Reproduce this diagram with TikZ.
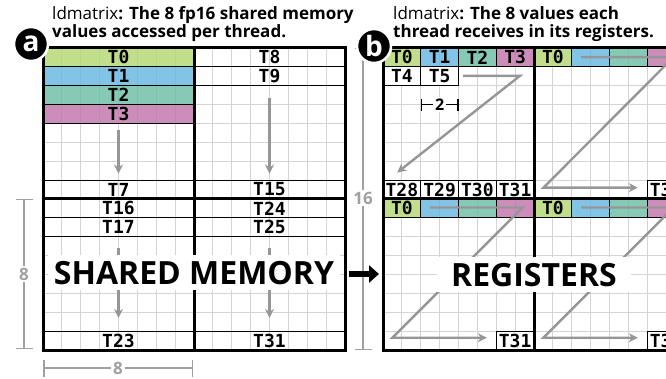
\documentclass[tikz,border=0pt]{standalone}
\usepackage{fontspec}
\setmainfont{Open Sans}
\newfontfamily\threadfont{DejaVu Sans Mono}
\usetikzlibrary{arrows.meta, positioning}
\definecolor{threadgreen}{RGB}{176,214,111}
\definecolor{threadblue}{RGB}{99,181,224}
\definecolor{threadteal}{RGB}{104,187,163}
\definecolor{threadpink}{RGB}{191,113,169}
\definecolor{gridgray}{RGB}{212,212,212}
\definecolor{flowgray}{RGB}{150,150,150}
\definecolor{dimgray}{RGB}{160,160,160}

\begin{document}
\begin{tikzpicture}[
    x=1pt, y=-1pt,
    gridline/.style={draw=gridgray, line width=1.2pt},
    frame/.style={draw=black, line width=3pt},
    thread/.style={draw=black, line width=1.2pt, minimum width=#1, minimum height=18.875pt,
                   inner sep=0pt, outer sep=0pt, anchor=north west,
                   fill opacity=0.8, text opacity=1,
                   font=\threadfont\bfseries\fontsize{18}{18}\selectfont},
    thread/.default=151pt,
    reg/.style={thread=37.75pt},
    regw/.style={reg, fill=white, fill opacity=1},
    flow/.style={draw=flowgray, line width=2.4pt, -{Stealth[length=9pt, width=9pt]}},
    dimline/.style={draw=dimgray, line width=1.5pt, {Bar[width=17pt]}-{Bar[width=17pt]}},
    dimlabel/.style={fill=white, text=dimgray, font=\bfseries\fontsize{17}{17}\selectfont, inner sep=2pt},
    biglabel/.style={fill=white, font=\bfseries\fontsize{32}{32}\selectfont,
                     text height=23pt, text depth=0pt, inner ysep=6pt},
    panel/.style={circle, fill=black, draw=white, line width=2.5pt, minimum size=34pt,
                  inner sep=0pt, text=white, font=\bfseries\fontsize{28}{28}\selectfont},
    title/.style={anchor=north west, align=left, inner sep=0pt, font=\fontsize{17}{18}\selectfont},
    move/.style={draw=black, line width=6pt, -{Triangle[length=10pt, width=17pt]}}
]
\useasboundingbox (0,0) rectangle (666,379);
\clip (0,0) rectangle (666,379);

% panel a: shared memory
\begin{scope}[shift={(43,48)}, x=18.875pt, y=-18.875pt]
  \foreach \i in {0,...,16} {
    \draw[gridline] (\i,0) -- (\i,16);
    \draw[gridline] (0,\i) -- (16,\i);
  }
  \node[thread, fill=threadgreen] (sT0) at (0,0) {T0};
  \node[thread, fill=threadblue] (sT1) at (0,1) {T1};
  \node[thread, fill=threadteal] (sT2) at (0,2) {T2};
  \node[thread, fill=threadpink] (sT3) at (0,3) {T3};
  \node[thread] (sT7) at (0,7) {T7};
  \node[thread] (sT16) at (0,8) {T16};
  \node[thread] (sT17) at (0,9) {T17};
  \node[thread] (sT23) at (0,15) {T23};
  \node[thread] (sT8) at (8,0) {T8};
  \node[thread] (sT9) at (8,1) {T9};
  \node[thread] (sT15) at (8,7) {T15};
  \node[thread] (sT24) at (8,8) {T24};
  \node[thread] (sT25) at (8,9) {T25};
  \node[thread] (sT31) at (8,15) {T31};

  \draw[frame] (0,0) rectangle (16,16);
  \draw[frame] (8,0) -- (8,16);
  \draw[frame] (0,8) -- (16,8);

  % thread order
  \coordinate (sa1) at (4,4.35);  \coordinate (sa2) at (4,6.65);
  \coordinate (sb1) at (12,2.65); \coordinate (sb2) at (12,6.65);
  \coordinate (sc1) at (4,10.6);  \coordinate (sc2) at (4,14.3);
  \coordinate (sd1) at (12,10.6); \coordinate (sd2) at (12,14.3);
  \draw[flow] (sa1) -- (sa2);
  \draw[flow] (sb1) -- (sb2);
  \draw[flow] (sc1) -- (sc2);
  \draw[flow] (sd1) -- (sd2);

  \node[biglabel, inner xsep=6pt] (smem) at (8,11.9) {SHARED MEMORY};
\end{scope}

% panel b: registers
\begin{scope}[shift={(383,48)}, x=18.875pt, y=-18.875pt]
  \foreach \i in {0,...,16} {
    \draw[gridline] (\i,0) -- (\i,16);
    \draw[gridline] (0,\i) -- (16,\i);
  }
  \foreach \col/\clr/\lbl [count=\k] in {0/threadgreen/T0, 2/threadblue/T1, 4/threadteal/T2,
      6/threadpink/T3, 8/threadgreen/T0, 10/threadblue/{}, 12/threadteal/{}, 14/threadpink/{}} {
    \node[reg, fill=\clr] (rA\k) at (\col,0) {\lbl};
  }
  \foreach \col/\clr/\lbl [count=\k] in {0/threadgreen/T0, 2/threadblue/{}, 4/threadteal/{},
      6/threadpink/{}, 8/threadgreen/T0, 10/threadblue/{}, 12/threadteal/{}, 14/threadpink/{}} {
    \node[reg, fill=\clr] (rB\k) at (\col,8) {\lbl};
  }
  \node[regw] (rT4) at (0,1) {T4};
  \node[regw] (rT5) at (2,1) {T5};
  \node[regw] (rT28) at (0,7) {T28};
  \node[regw] (rT29) at (2,7) {T29};
  \node[regw] (rT30) at (4,7) {T30};
  \node[regw] (rT31) at (6,7) {T31};
  \node[regw] (rU31) at (14,7) {T31};
  \node[regw] (rV31) at (6,15) {T31};
  \node[regw] (rW31) at (14,15) {T31};

  \draw[frame] (0,0) rectangle (16,16);
  \draw[frame] (8,0) -- (8,16);
  \draw[frame] (0,8) -- (16,8);

  % register order
  \coordinate (ra1) at (4.25,1.48); \coordinate (ra2) at (7.25,1.48); \coordinate (ra3) at (0.75,6.6);
  \coordinate (rb1) at (10.5,0.48); \coordinate (rb2) at (15.4,0.48);
  \coordinate (rb3) at (8.5,7.4);   \coordinate (rb4) at (13.5,7.4);
  \coordinate (rc1) at (2.5,8.45);  \coordinate (rc2) at (7.4,8.45);
  \coordinate (rc3) at (0.5,15.35); \coordinate (rc4) at (5.5,15.35);
  \coordinate (rd1) at (10.5,8.45); \coordinate (rd2) at (15.4,8.45);
  \coordinate (rd3) at (8.5,15.35); \coordinate (rd4) at (13.5,15.35);
  \draw[flow] (ra1) -- (ra2) -- (ra3);
  \draw[flow] (rb1) -- (rb2) -- (rb3) -- (rb4);
  \draw[flow] (rc1) -- (rc2) -- (rc3) -- (rc4);
  \draw[flow] (rd1) -- (rd2) -- (rd3) -- (rd4);

  \coordinate (pair1) at (2,3); \coordinate (pair2) at (4,3);
  \draw[line width=1.5pt, {Bar[width=12pt]}-{Bar[width=12pt]}] (pair1) -- (pair2);
  \node[fill=white, inner sep=2pt, font=\bfseries\fontsize{16}{16}\selectfont] (pairlbl) at (3,3) {2};

  \node[biglabel, inner xsep=14pt] (regs) at (8,12) {REGISTERS};
\end{scope}

% dimensions
\coordinate (dimL1) at (24,199);  \coordinate (dimL2) at (24,349);
\coordinate (dimB1) at (43,368);  \coordinate (dimB2) at (193,368);
\coordinate (dimR1) at (363,48);  \coordinate (dimR2) at (363,350);
\draw[dimline] (dimL1) -- (dimL2);
\draw[dimline] (dimB1) -- (dimB2);
\draw[dimline] (dimR1) -- (dimR2);
\node[dimlabel] (rowsA) at (24,274) {8};
\node[dimlabel] (colsA) at (118,368) {8};
\node[dimlabel] (rowsB) at (363,198) {16};

% move to registers
\coordinate (moveA) at (349,274);
\coordinate (moveB) at (379,274);
\draw[move] (moveA) -- (moveB);

% titles
\node[panel] (panA) at (31,44) {a};
\node[panel] (panB) at (374,46) {b};
\node[title] (titleA) at (52,6) {ldmatrix\textbf{: The 8 fp16 shared memory}\\\textbf{values accessed per thread.}};
\node[title] (titleB) at (393,6) {ldmatrix\textbf{: The 8 values each}\\\textbf{thread receives in its registers.}};
\end{tikzpicture}
\end{document}
